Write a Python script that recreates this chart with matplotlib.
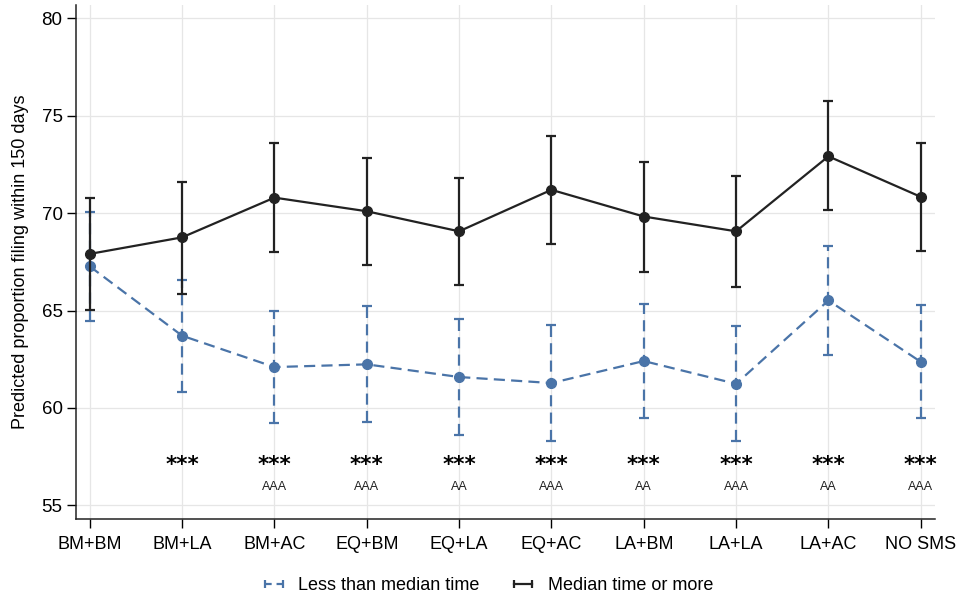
import matplotlib.pyplot as plt
from matplotlib.lines import Line2D

plt.rcParams['font.family'] = ['Liberation Sans', 'DejaVu Sans']

groups = ['BM+BM', 'BM+LA', 'BM+AC', 'EQ+BM', 'EQ+LA', 'EQ+AC',
          'LA+BM', 'LA+LA', 'LA+AC', 'NO SMS']

# Less than median time
low_est = [67.27, 63.71, 62.10, 62.24, 61.59, 61.28, 62.41, 61.24, 65.52, 62.37]
low_lo = [64.45, 60.82, 59.22, 59.29, 58.62, 58.30, 59.51, 58.28, 62.72, 59.51]
low_hi = [70.07, 66.59, 64.98, 65.22, 64.58, 64.28, 65.35, 64.22, 68.34, 65.27]

# Median time or more
high_est = [67.91, 68.76, 70.80, 70.10, 69.07, 71.20, 69.83, 69.07, 72.92, 70.84]
high_lo = [65.03, 65.87, 68.01, 67.34, 66.30, 68.42, 66.98, 66.23, 70.15, 68.04]
high_hi = [70.80, 71.62, 73.61, 72.86, 71.83, 73.94, 72.65, 71.90, 75.75, 73.63]

stars = ['', '***', '***', '***', '***', '***', '***', '***', '***', '***']
diff_marks = ['', '', 'AAA', 'AAA', 'AA', 'AAA', 'AA', 'AAA', 'AA', 'AAA']

blue = '#4a74a8'
black = '#222222'
dash = (0, (5, 2.8))

fig = plt.figure(figsize=(9.61, 6), dpi=100)
ax = fig.add_axes([0.079, 0.135, 0.894, 0.857])

x = list(range(len(groups)))

# blue series: dashed line and dashed caps
eb = ax.errorbar(x, low_est,
                 yerr=[[e - l for e, l in zip(low_est, low_lo)],
                       [h - e for e, h in zip(low_est, low_hi)]],
                 color=blue, ecolor=blue, marker='o', markersize=7,
                 linestyle=dash, linewidth=1.6, elinewidth=1.6,
                 capsize=3.5, capthick=1.6, zorder=3)
eb[2][0].set_linestyle(dash)

ax.errorbar(x, high_est,
            yerr=[[e - l for e, l in zip(high_est, high_lo)],
                  [h - e for e, h in zip(high_est, high_hi)]],
            color=black, ecolor=black, marker='o', markersize=7,
            linestyle='-', linewidth=1.6, elinewidth=1.6,
            capsize=3.5, capthick=1.6, zorder=4)

for xi, s, a in zip(x, stars, diff_marks):
    if s:
        ax.text(xi, 57.05, s, ha='center', va='center', fontsize=15.5,
                fontweight='bold', family='DejaVu Sans', color='black')
    if a:
        ax.text(xi, 55.95, a, ha='center', va='center', fontsize=9,
                color='#222222')

ax.set_xlim(-0.15, 9.155)
ax.set_ylim(54.3, 80.7)
ax.set_xticks(x)
ax.set_xticklabels(groups, fontsize=13)
ax.set_yticks([55, 60, 65, 70, 75, 80])
ax.tick_params(axis='y', labelsize=13.5, length=6.2, width=1, pad=3.4)
ax.tick_params(axis='x', length=6.2, width=1, pad=6)
ax.set_ylabel('Predicted proportion filing within 150 days', fontsize=13, labelpad=9)

ax.grid(True, color='#e6e6e6', linewidth=0.9)
ax.set_axisbelow(True)
for side in ['top', 'right']:
    ax.spines[side].set_visible(False)
for side in ['left', 'bottom']:
    ax.spines[side].set_color('#222222')
    ax.spines[side].set_linewidth(1.1)

handles = [
    Line2D([0], [0], color=blue, linestyle=(0, (3, 2.2)), linewidth=1.6,
           marker='|', markersize=6, markeredgewidth=1.6),
    Line2D([0], [0], color=black, linestyle='-', linewidth=1.6,
           marker='|', markersize=6, markeredgewidth=1.6),
]
fig.legend(handles, ['Less than median time', 'Median time or more'],
           loc='center', bbox_to_anchor=(0.506, 0.024), ncol=2, frameon=False,
           fontsize=13, numpoints=2, handlelength=1.6, columnspacing=1.6,
           handletextpad=0.55)

fig.savefig('out.png', dpi=100)
